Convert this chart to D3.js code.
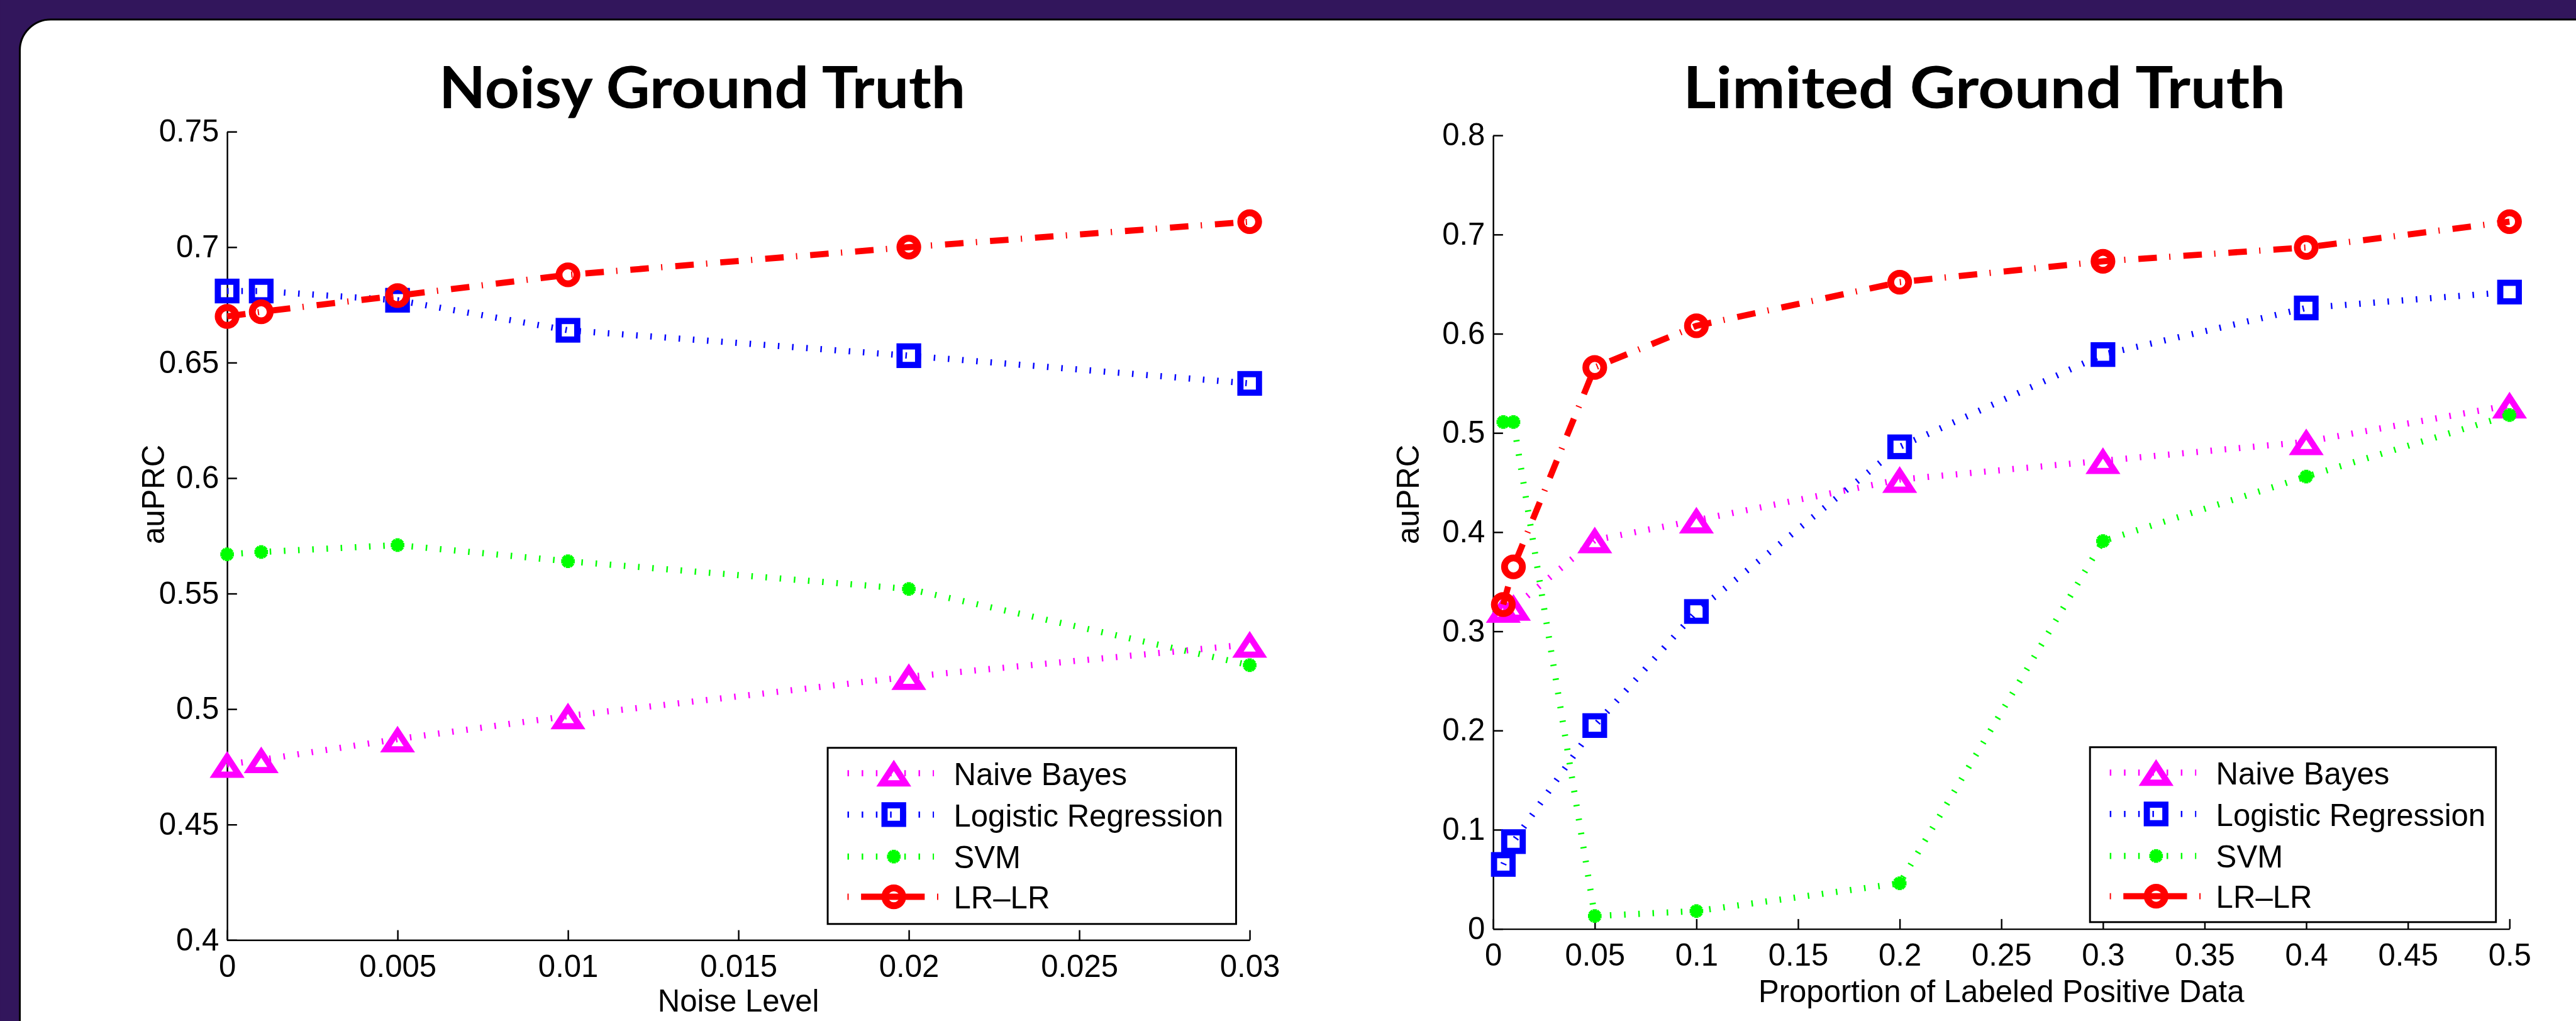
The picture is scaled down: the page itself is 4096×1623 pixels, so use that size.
<!DOCTYPE html>
<html>
<head>
<meta charset="utf-8">
<script src="https://cdn.jsdelivr.net/npm/d3@7"></script>
<style>
  html, body { margin: 0; padding: 0; background: #32165c; overflow: hidden; }
  svg { display: block; }
  .tick text, .lab { font-family: "Liberation Sans", Arial, sans-serif; font-size: 50px; fill: #000; }
  .title { font-family: Lato, "Open Sans", sans-serif; font-weight: 700; font-size: 94px; fill: #000; }
</style>
</head>
<body>
<script>
// series names (legend order = draw order)
var seriesNames = ["Naive Bayes", "Logistic Regression", "SVM", "LR\u2013LR"];

// Noisy Ground Truth
var noiseLevels = [0, 0.001, 0.005, 0.01, 0.02, 0.03];
var noiseNB   = [0.476, 0.478, 0.487, 0.497, 0.514, 0.528];
var noiseLR   = [0.681, 0.681, 0.677, 0.664, 0.653, 0.641];
var noiseSVM  = [0.567, 0.568, 0.571, 0.564, 0.552, 0.519];
var noiseLRLR = [0.670, 0.672, 0.679, 0.688, 0.700, 0.711];
var noiseXTicks = [0, 0.005, 0.01, 0.015, 0.02, 0.025, 0.03];
var noiseYTicks = [0.4, 0.45, 0.5, 0.55, 0.6, 0.65, 0.7, 0.75];

// Limited Ground Truth
var proportions = [0.005, 0.01, 0.05, 0.1, 0.2, 0.3, 0.4, 0.5];
var propNB   = [0.322, 0.324, 0.392, 0.412, 0.453, 0.472, 0.491, 0.528];
var propLR   = [0.065, 0.088, 0.205, 0.320, 0.486, 0.579, 0.626, 0.642];
var propSVM  = [0.511, 0.511, 0.013, 0.018, 0.046, 0.391, 0.456, 0.518];
var propLRLR = [0.327, 0.365, 0.566, 0.608, 0.652, 0.673, 0.687, 0.713];
var propXTicks = [0, 0.05, 0.1, 0.15, 0.2, 0.25, 0.3, 0.35, 0.4, 0.45, 0.5];
var propYTicks = [0, 0.1, 0.2, 0.3, 0.4, 0.5, 0.6, 0.7, 0.8];

var W = 4168, H = 1652;
var colors = ["#ff00ff", "#0000ff", "#00ff00", "#ff0000"];
var markers = ["triangle", "square", "star", "circle"];
var DOT = "2.5,20.5", DASHDOT = "30,20,2,21";

var svg = d3.select("body").append("svg")
    .attr("width", 4096).attr("height", 1623)
    .attr("viewBox", "0 0 " + W + " " + H);

// background + white slide panel with rounded top-left corner
svg.append("rect").attr("width", W).attr("height", H).attr("fill", "#32165c");
var px = 31.5, py = 31.5, pr = 50;
svg.append("path")
    .attr("d", "M" + px + "," + (H + 20) + " L" + px + "," + (py + pr) +
        " A" + pr + "," + pr + " 0 0 1 " + (px + pr) + "," + py +
        " L" + (W + 20) + "," + py + " L" + (W + 20) + "," + (H + 20) + " Z")
    .attr("fill", "#fff").attr("stroke", "#000").attr("stroke-width", 3);

function drawMarker(g, type, color) {
    if (type == "triangle") {
        g.append("path").attr("d", "M0,-12.5 L19,16.5 L-19,16.5 Z")
            .attr("fill", "none").attr("stroke", color).attr("stroke-width", 10);
    } else if (type == "square") {
        g.append("rect").attr("x", -15).attr("y", -15).attr("width", 30).attr("height", 30)
            .attr("fill", "none").attr("stroke", color).attr("stroke-width", 10);
    } else if (type == "circle") {
        g.append("circle").attr("r", 14.5)
            .attr("fill", "none").attr("stroke", color).attr("stroke-width", 11);
    } else {
        [0, 45, 90, 135].forEach(function(a) {
            g.append("line").attr("x1", -11).attr("x2", 11)
                .attr("transform", "rotate(" + a + ")")
                .attr("stroke", color).attr("stroke-width", 7);
        });
    }
}

function drawChart(c) {
    var x = d3.scaleLinear().domain(c.xDomain).range([c.left, c.right]);
    var y = d3.scaleLinear().domain(c.yDomain).range([c.bottom, c.top]);
    var g = svg.append("g");

    g.append("text").attr("class", "title")
        .attr("x", c.titleX).attr("y", 175).attr("text-anchor", "middle")
        .attr("textLength", c.titleW).attr("lengthAdjust", "spacingAndGlyphs")
        .text(c.title);

    var xa = g.append("g").attr("transform", "translate(0," + c.bottom + ")")
        .call(d3.axisBottom(x).tickValues(c.xTicks).tickFormat(String)
            .tickSizeInner(-16).tickSizeOuter(0).tickPadding(24));
    var ya = g.append("g").attr("transform", "translate(" + c.left + ",0)")
        .call(d3.axisLeft(y).tickValues(c.yTicks).tickFormat(String)
            .tickSizeInner(-16).tickSizeOuter(0).tickPadding(13));
    [xa, ya].forEach(function(a) {
        a.attr("font-family", null).attr("font-size", null);
        a.select(".domain").attr("stroke-width", 2.5);
        a.selectAll(".tick line").attr("stroke-width", 2.5);
    });

    g.append("text").attr("class", "lab")
        .attr("x", (c.left + c.right) / 2).attr("y", c.xLabelY)
        .attr("text-anchor", "middle").text(c.xLabel);
    g.append("text").attr("class", "lab")
        .attr("transform", "translate(" + c.yLabelX + "," + c.yLabelY + ") rotate(-90)")
        .attr("text-anchor", "middle").text("auPRC");

    var line = d3.line()
        .x(function(d) { return x(d[0]); })
        .y(function(d) { return y(d[1]); });

    c.series.forEach(function(vals, i) {
        var pts = c.xs.map(function(v, j) { return [v, vals[j]]; });
        var dash = i == 3 ? DASHDOT : DOT;
        g.append("path").datum(pts).attr("d", line)
            .attr("fill", "none").attr("stroke", colors[i])
            .attr("stroke-width", 10).attr("stroke-dasharray", dash);
        pts.forEach(function(p) {
            var m = g.append("g").attr("transform", "translate(" + x(p[0]) + "," + y(p[1]) + ")");
            drawMarker(m, markers[i], colors[i]);
        });
    });

    // legend
    var L = c.legend;
    var lg = g.append("g").attr("transform", "translate(" + L.x + "," + L.y + ")");
    lg.append("rect").attr("width", L.w).attr("height", L.h)
        .attr("fill", "#fff").attr("stroke", "#000").attr("stroke-width", 3);
    var rowY = [41, 108, 176, 241];
    seriesNames.forEach(function(name, i) {
        var ry = rowY[i];
        lg.append("line")
            .attr("x1", 32).attr("x2", i == 3 ? 179 : 172)
            .attr("y1", ry).attr("y2", ry)
            .attr("stroke", colors[i]).attr("stroke-width", 10)
            .attr("stroke-dasharray", i == 3 ? "2,20,103,20,2" : DOT);
        var m = lg.append("g").attr("transform", "translate(107," + ry + ")");
        drawMarker(m, markers[i], colors[i]);
        lg.append("text").attr("class", "lab")
            .attr("x", 204).attr("y", ry + 19).text(name);
    });
}

drawChart({
    title: "Noisy Ground Truth", titleX: 1136, titleW: 852,
    xDomain: [0, 0.03], yDomain: [0.4, 0.75],
    left: 367, right: 2022, top: 213, bottom: 1521,
    xTicks: noiseXTicks, yTicks: noiseYTicks,
    xLabel: "Noise Level", xLabelY: 1637, yLabelX: 265, yLabelY: 800,
    xs: noiseLevels, series: [noiseNB, noiseLR, noiseSVM, noiseLRLR],
    legend: { x: 1339, y: 1210, w: 661, h: 285 }
});

drawChart({
    title: "Limited Ground Truth", titleX: 3211, titleW: 975,
    xDomain: [0, 0.5], yDomain: [0, 0.8],
    left: 2416, right: 4061, top: 219, bottom: 1503,
    xTicks: propXTicks, yTicks: propYTicks,
    xLabel: "Proportion of Labeled Positive Data", xLabelY: 1621, yLabelX: 2296, yLabelY: 800,
    xs: proportions, series: [propNB, propLR, propSVM, propLRLR],
    legend: { x: 3382, y: 1209, w: 657, h: 283 }
});
</script>
</body>
</html>
